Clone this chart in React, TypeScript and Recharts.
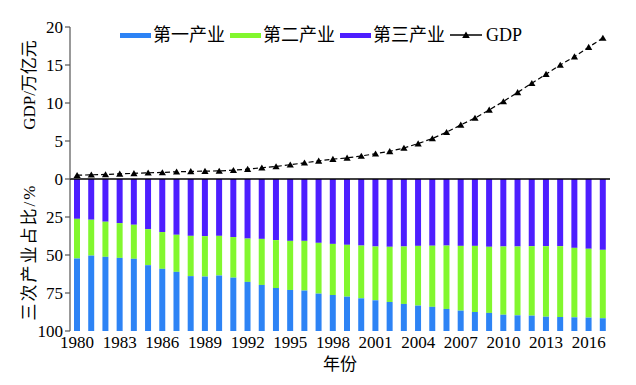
import { ComposedChart, BarChart, Bar, Line, XAxis, YAxis, Label } from 'recharts'

const FONT = "'Liberation Serif', 'DejaVu Serif', 'Noto Sans CJK SC', serif"

const YEARS = [
  '1980', '1981', '1982', '1983', '1984', '1985', '1986', '1987', '1988', '1989',
  '1990', '1991', '1992', '1993', '1994', '1995', '1996', '1997', '1998', '1999',
  '2000', '2001', '2002', '2003', '2004', '2005', '2006', '2007', '2008', '2009',
  '2010', '2011', '2012', '2013', '2014', '2015', '2016', '2017',
]

// GDP, 万亿元
const GDP = [
  0.5, 0.55, 0.6, 0.68, 0.74, 0.82, 0.86, 0.95, 1.0, 1.04,
  1.06, 1.16, 1.3, 1.48, 1.65, 1.88, 2.13, 2.39, 2.61, 2.78,
  3.03, 3.33, 3.64, 4.08, 4.66, 5.33, 6.15, 7.12, 8.02, 9.1,
  10.2, 11.4, 12.6, 13.8, 15.0, 16.1, 17.35, 18.55,
]

// 三次产业占比 (%)
const PRIMARY = [
  47.7, 49.6, 48.8, 48.1, 47.5, 43.3, 40.9, 38.9, 36.1, 35.8,
  36.5, 35.1, 32.3, 30.3, 28.3, 27.0, 26.6, 24.6, 23.7, 22.6,
  21.5, 20.2, 19.1, 17.8, 16.7, 15.9, 14.5, 13.4, 12.5, 11.9,
  10.7, 10.3, 10.1, 9.4, 9.2, 9.0, 8.8, 8.4,
]
const SECONDARY = [
  26.1, 23.6, 23.1, 22.9, 22.4, 23.7, 24.2, 24.4, 26.5, 26.6,
  26.1, 26.7, 28.5, 30.3, 31.5, 32.3, 32.7, 33.4, 33.6, 34.1,
  34.7, 35.4, 36.3, 37.8, 39.3, 40.2, 41.7, 42.6, 43.5, 43.5,
  44.9, 45.3, 45.7, 46.4, 46.6, 45.7, 45.3, 45.0,
]
const TERTIARY = [
  26.2, 26.8, 28.1, 29.0, 30.1, 33.0, 34.9, 36.7, 37.4, 37.6,
  37.4, 38.2, 39.2, 39.4, 40.2, 40.7, 40.7, 42.0, 42.7, 43.3,
  43.8, 44.4, 44.6, 44.4, 44.0, 43.9, 43.8, 44.0, 44.0, 44.6,
  44.4, 44.4, 44.2, 44.2, 44.2, 45.3, 45.9, 46.6,
]

const GDP_TICKS = [0, 5, 10, 15, 20]
const SHARE_TICKS = [25, 50, 75, 100]

const COLORS = { primary: '#2d83f5', secondary: '#82f72e', tertiary: '#4d1eff' }

const data = YEARS.map((year, i) => ({
  year,
  gdp: GDP[i],
  primary: PRIMARY[i],
  secondary: SECONDARY[i],
  tertiary: TERTIARY[i],
}))

const tickStyle = { fill: '#000', fontSize: 17, fontFamily: FONT }
const axisStroke = { stroke: '#555', strokeWidth: 1.2 }

const Triangle = (props: any) => {
  const { cx, cy, index } = props
  if (cx == null || cy == null) return <g key={`t-${index}`} />
  return (
    <path
      key={`t-${index}`}
      d={`M${cx},${cy - 3.3}L${cx + 3.6},${cy + 2.8}L${cx - 3.6},${cy + 2.8}Z`}
      fill="#000"
    />
  )
}

const sideTitle = (text: string, shift: number, spacing: number) => (props: any) => {
  const vb = props.viewBox || {}
  const cx = 29
  const cy = vb.y + vb.height / 2 + shift
  return (
    <text
      x={cx}
      y={cy}
      transform={`rotate(-90 ${cx} ${cy})`}
      textAnchor="middle"
      dominantBaseline="central"
      fontSize={17}
      fontFamily={FONT}
      letterSpacing={spacing}
      fill="#000"
    >
      {text}
    </text>
  )
}

const LEGEND = [
  { name: '第一产业', color: COLORS.primary },
  { name: '第二产业', color: COLORS.secondary },
  { name: '第三产业', color: COLORS.tertiary },
]

function ChartLegend() {
  return (
    <div
      style={{
        position: 'absolute',
        left: 120,
        top: 25,
        display: 'flex',
        alignItems: 'center',
        fontFamily: FONT,
        fontSize: 18,
        lineHeight: '20px',
        color: '#000',
      }}
    >
      {LEGEND.map((item) => (
        <div key={item.name} style={{ display: 'flex', alignItems: 'center', marginRight: 5 }}>
          <span style={{ display: 'inline-block', width: 31, height: 5, background: item.color, marginRight: 2 }} />
          <span>{item.name}</span>
        </div>
      ))}
      <div style={{ display: 'flex', alignItems: 'center' }}>
        <svg width={32} height={10} style={{ marginRight: 4 }}>
          <line x1={0} y1={5} x2={32} y2={5} stroke="#000" strokeWidth={1.5} />
          <path d="M16,1.5L19.8,8L12.2,8Z" fill="#000" />
        </svg>
        <span>GDP</span>
      </div>
    </div>
  )
}

export default function App() {
  return (
    <div style={{ position: 'absolute', left: 0, top: 0, width: 636, height: 385, background: '#fff' }}>
      <div style={{ position: 'absolute', left: 0, top: 179 }}>
        <BarChart width={636} height={206} data={data} margin={{ top: 0, right: 26, bottom: 0, left: 0 }}>
          <XAxis
            dataKey="year"
            height={54}
            axisLine={false}
            tickLine={false}
            tickSize={0}
            tickMargin={5}
            interval={2}
            tick={tickStyle}
          >
            <Label value="年份" position="insideBottom" offset={15} fontSize={17} fontFamily={FONT} fill="#000" />
          </XAxis>
          <YAxis
            reversed
            domain={[0, 100]}
            ticks={SHARE_TICKS}
            interval={0}
            width={70}
            tickSize={5}
            tickMargin={2}
            axisLine={axisStroke}
            tickLine={axisStroke}
            tick={tickStyle}
          >
            <Label content={sideTitle('三次产业占比/%', -3, 2)} />
          </YAxis>
          <Bar dataKey="tertiary" stackId="s" fill={COLORS.tertiary} barSize={6} isAnimationActive={false} />
          <Bar dataKey="secondary" stackId="s" fill={COLORS.secondary} barSize={6} isAnimationActive={false} />
          <Bar dataKey="primary" stackId="s" fill={COLORS.primary} barSize={6} isAnimationActive={false} />
        </BarChart>
      </div>
      <div style={{ position: 'absolute', left: 0, top: 0 }}>
        <ComposedChart width={636} height={192} data={data} margin={{ top: 27, right: 26, bottom: 12, left: 0 }}>
          <XAxis
            dataKey="year"
            scale="band"
            height={1}
            tick={false}
            tickLine={false}
            axisLine={{ stroke: '#000', strokeWidth: 1.6 }}
          />
          <YAxis
            domain={[0, 20]}
            ticks={GDP_TICKS}
            interval={0}
            width={70}
            tickSize={5}
            tickMargin={2}
            axisLine={axisStroke}
            tickLine={axisStroke}
            tick={tickStyle}
          >
            <Label content={sideTitle('GDP/万亿元', -18, 0)} />
          </YAxis>
          <Line
            dataKey="gdp"
            stroke="#000"
            strokeWidth={1.2}
            strokeDasharray="5 3"
            dot={Triangle}
            isAnimationActive={false}
          />
        </ComposedChart>
      </div>
      <ChartLegend />
    </div>
  )
}
